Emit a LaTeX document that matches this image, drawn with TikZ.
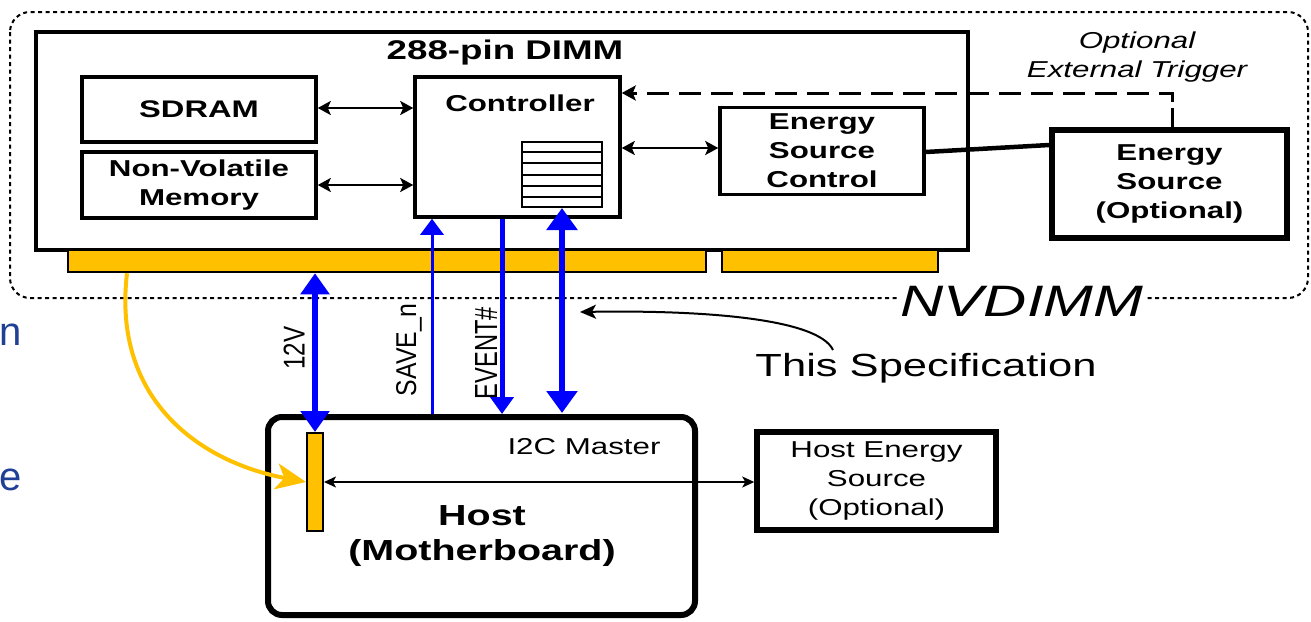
\documentclass[tikz,border=0pt]{standalone}
\usepackage{graphicx}
\usepackage{fontspec}
\setmainfont[FakeStretch=1.36]{Liberation Sans}
\newfontfamily\plainfont{Liberation Sans}
\usetikzlibrary{arrows.meta,calc}
\definecolor{gold}{RGB}{255,192,0}
\definecolor{pblue}{RGB}{0,0,255}
\definecolor{slideblue}{RGB}{32,64,150}
\newcommand{\vlabel}[3]{\resizebox{#1}{#2}{\plainfont\fontsize{24}{26}\selectfont #3}}
\tikzset{
  box/.style={draw, line width=3.5pt, fill=white, inner sep=0pt, align=center,
    font=\bfseries\fontsize{23}{29}\selectfont},
  heavybox/.style={box, line width=5.5pt},
  bar/.style={draw, line width=2.5pt, fill=gold, inner sep=0pt},
  blk/.style={line width=2.5pt, {Stealth[length=13pt,width=14pt,inset=3pt]}-{Stealth[length=13pt,width=14pt,inset=3pt]}},
  thinblk/.style={line width=1.5pt, {Stealth[length=12pt,width=11pt,inset=3pt]}-{Stealth[length=12pt,width=11pt,inset=3pt]}},
  sig/.style={draw=pblue, line width=3pt},
  lbl/.style={inner sep=0pt, rotate=90},
}
\begin{document}
\begin{tikzpicture}[x=1pt,y=-1pt]
\useasboundingbox (0,0) rectangle (1311,621);

% NVDIMM dotted outline
\draw[line width=2pt, dash pattern=on 4pt off 3.5pt, rounded corners=20pt] (10,12) rectangle (1308,298);
\node[fill=white, inner sep=2pt, font=\itshape\fontsize{44}{48}\selectfont] (nvdimm) at (1022,301) {NVDIMM};

% DIMM
\node[box, line width=4.5pt, minimum width=932pt, minimum height=218pt] (dimm) at (502,141) {};
\node[font=\bfseries\fontsize{27}{30}\selectfont, inner sep=0pt] (dimmlbl) at (505,53) {288-pin DIMM};
\node[bar, minimum width=638pt, minimum height=22pt] (barL) at (387,261) {};
\node[bar, minimum width=216pt, minimum height=22pt] (barR) at (830,261) {};

% inner boxes
\node[box, minimum width=234pt, minimum height=65pt, font=\bfseries\fontsize{24}{29}\selectfont] (sdram) at (199,109.5) {SDRAM};
\node[box, minimum width=234pt, minimum height=66pt] (nvm) at (199,185) {Non-Volatile\\Memory};
\node[box, minimum width=205pt, minimum height=140pt] (ctrl) at (517.5,147) {};
\node[font=\bfseries\fontsize{23}{26}\selectfont, inner sep=0pt] (ctrllbl) at (520,103) {Controller};
\node[draw, line width=2pt, fill=white, minimum width=80pt, minimum height=65pt, inner sep=0pt] (reg) at (562,174.5) {};
\foreach \i in {1,...,5}{
  \draw[line width=2pt] ($(reg.north west)!\i/6!(reg.south west)$) -- ($(reg.north east)!\i/6!(reg.south east)$);
}
\node[box, minimum width=204pt, minimum height=87pt] (esc) at (822,151) {Energy\\Source\\Control};
\node[heavybox, minimum width=235pt, minimum height=108pt] (es) at (1169.5,184) {Energy\\Source\\(Optional)};

% optional trigger
\node[font=\itshape\fontsize{23}{29}\selectfont, align=center, inner sep=0pt] (trig) at (1137,57.5) {Optional\\External Trigger};

% internal arrows
\draw[blk] (sdram.east |- 0,108) -- (ctrl.west |- 0,108);
\draw[blk] (nvm.east |- 0,185) -- (ctrl.west |- 0,185);
\draw[blk] (ctrl.east |- 0,148) -- (esc.west |- 0,148);
\draw[line width=4.5pt] (esc.east |- 0,152) -- (es.west |- 0,145);
\draw[line width=3pt] (es.north -| 1172,0) -- (1172,108);
\draw[line width=3pt, dash pattern=on 22pt off 10pt, -{Stealth[length=14pt,width=15pt,inset=3pt]}] (1172,102) |- (ctrl.east |- 0,93);

% host
\node[draw, line width=6pt, rounded corners=14pt, minimum width=427pt, minimum height=198pt, inner sep=0pt] (host) at (481.5,516) {};
\node[draw, line width=2pt, fill=gold, minimum width=16pt, minimum height=98pt, inner sep=0pt] (hc) at (315,482) {};
\node[font=\fontsize{23}{26}\selectfont, inner sep=0pt] (i2c) at (584,447) {I2C Master};
\node[font=\bfseries\fontsize{29}{35}\selectfont, align=center, inner sep=0pt] (hostlbl) at (482,536) {Host\\(Motherboard)};
\node[heavybox, minimum width=239pt, minimum height=98pt, font=\fontsize{23}{29}\selectfont] (hes) at (876.5,481) {Host Energy\\Source\\(Optional)};
\draw[thinblk] (hc.east) -- (hc.east -| hes.west);

% blue signals
\draw[sig, line width=3pt, -{Triangle[length=16pt,width=23pt]}] (host.north -| 432,0) -- (ctrl.south -| 432,0);
\draw[sig, line width=5pt, -{Triangle[length=17pt,width=23pt]}] (ctrl.south -| 502,0) -- (host.north -| 502,0);
\draw[sig, line width=6pt, {Triangle[length=22pt,width=30pt]}-{Triangle[length=22pt,width=30pt]}] (reg.south) -- (562,413);
\draw[sig, line width=6pt, {Triangle[length=21pt,width=28pt]}-{Triangle[length=21pt,width=28pt]}] (barL.south -| hc.north) -- (hc.north);
\node[lbl] (v12) at (294,348) {\vlabel{43pt}{21pt}{12V}};
\node[lbl] (save) at (409,350) {\vlabel{92pt}{20pt}{SAVE\_n}};
\node[lbl] (event) at (486,353) {\vlabel{92pt}{22pt}{EVENT\#}};

% yellow curve
\draw[gold, line width=4pt, -{Stealth[length=30pt,width=26pt,inset=8pt]}] (barL.south -| 127,0) .. controls (112,400) and (200,462) .. (hc.west);

% this specification
\node[font=\fontsize{32}{36}\selectfont, inner sep=0pt] (spec) at (926,368) {This Specification};
\coordinate (specStart) at (833,350);
\coordinate (specTip) at (580,312);
\draw[line width=2pt, -{Stealth[length=16pt,width=14pt,inset=4pt]}] (specStart) .. controls (818,318) and (700,310) .. (specTip);

% slide text at the left edge
\node[anchor=base west, text=slideblue, font=\plainfont\fontsize{40}{44}\selectfont, inner sep=0pt] (cutn) at (-1,345) {n};
\node[anchor=base west, text=slideblue, font=\plainfont\fontsize{40}{44}\selectfont, inner sep=0pt] (cute) at (-1,490) {e};
\end{tikzpicture}
\end{document}
